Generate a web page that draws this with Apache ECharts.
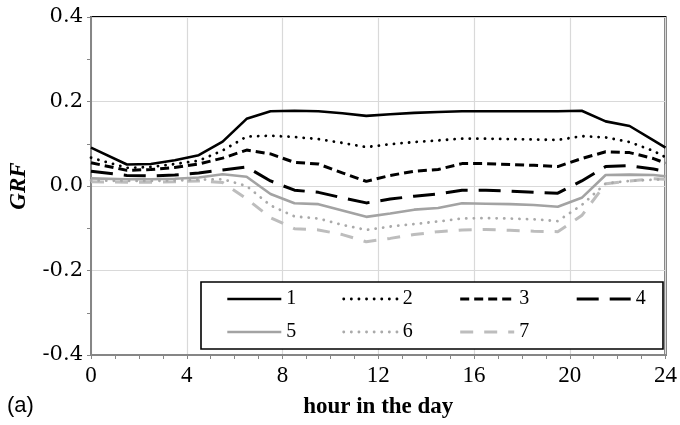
<!DOCTYPE html>
<html>
<head>
<meta charset="utf-8">
<script src="https://cdn.jsdelivr.net/npm/echarts@6/dist/echarts.min.js"></script>
<style>
  html, body { margin: 0; padding: 0; background: #fff; }
  #chart { width: 680px; height: 425px; }
</style>
</head>
<body>
<div id="chart"></div>
<script>
// Hours of the day at which GRF is plotted
const hours = [0, 1.5, 2.5, 3.5, 4.5, 5.5, 6.5, 7.5, 8.5, 9.5, 10.5, 11.5, 12.5,
               13.5, 14.5, 15.5, 16.5, 17.5, 18.5, 19.5, 20.5, 21.5, 22.5, 23.5, 24];

const grf1 = [0.091, 0.051, 0.052, 0.061, 0.073, 0.105, 0.159, 0.177, 0.178, 0.177, 0.172, 0.166, 0.170,
              0.173, 0.175, 0.177, 0.177, 0.177, 0.177, 0.177, 0.178, 0.153, 0.142, 0.108, 0.091];
const grf2 = [0.067, 0.043, 0.045, 0.052, 0.060, 0.084, 0.117, 0.119, 0.116, 0.111, 0.102, 0.092, 0.099,
              0.104, 0.108, 0.112, 0.112, 0.111, 0.110, 0.109, 0.118, 0.115, 0.104, 0.083, 0.068];
const grf3 = [0.055, 0.037, 0.039, 0.044, 0.052, 0.066, 0.085, 0.076, 0.056, 0.052, 0.031, 0.011, 0.025,
              0.035, 0.039, 0.053, 0.053, 0.051, 0.049, 0.046, 0.065, 0.081, 0.079, 0.065, 0.054];
const grf4 = [0.035, 0.025, 0.024, 0.026, 0.031, 0.038, 0.045, 0.012, -0.010, -0.015, -0.028, -0.040, -0.031,
              -0.024, -0.019, -0.010, -0.010, -0.012, -0.015, -0.017, 0.012, 0.046, 0.048, 0.040, 0.035];
const grf5 = [0.018, 0.016, 0.016, 0.017, 0.020, 0.028, 0.022, -0.019, -0.041, -0.043, -0.058, -0.073, -0.065,
              -0.056, -0.052, -0.041, -0.042, -0.043, -0.045, -0.049, -0.028, 0.026, 0.027, 0.026, 0.023];
const grf6 = [0.013, 0.012, 0.012, 0.013, 0.015, 0.016, 0.000, -0.046, -0.072, -0.077, -0.092, -0.104, -0.096,
              -0.090, -0.084, -0.077, -0.076, -0.077, -0.079, -0.083, -0.045, 0.006, 0.012, 0.015, 0.016];
const grf7 = [0.010, 0.009, 0.009, 0.010, 0.012, 0.008, -0.030, -0.075, -0.101, -0.104, -0.115, -0.132, -0.124,
              -0.115, -0.108, -0.104, -0.103, -0.105, -0.107, -0.108, -0.070, 0.005, 0.012, 0.017, 0.016];

const seriesNames = ['1', '2', '3', '4', '5', '6', '7'];
const seriesData = [grf1, grf2, grf3, grf4, grf5, grf6, grf7];

const xTicks = [0, 4, 8, 12, 16, 20, 24];
const yTicks = [-0.4, -0.2, 0.0, 0.2, 0.4];

// Line appearance per series
const styles = [
  { color: '#000000', width: 2.6, type: 'solid', cap: 'butt' },
  { color: '#000000', width: 2.8, type: [0.1, 7.5], cap: 'round' },
  { color: '#000000', width: 3.0, type: [9, 5], cap: 'butt' },
  { color: '#000000', width: 3.0, type: [22, 11], cap: 'butt' },
  { color: '#a3a3a3', width: 2.6, type: 'solid', cap: 'butt' },
  { color: '#aaaaaa', width: 2.8, type: [0.1, 7.5], cap: 'round' },
  { color: '#bdbdbd', width: 3.0, type: [13, 11], cap: 'butt' }
];

const serif = '"Liberation Serif", "Times New Roman", serif';
const wideSerif = '"DejaVu Serif", serif';

const chart = echarts.init(document.getElementById('chart'), null, { renderer: 'canvas' });

const series = seriesNames.map((name, i) => ({
  name: name,
  type: 'line',
  data: hours.map((h, k) => [h, seriesData[i][k]]),
  symbol: 'none',
  smooth: false,
  animation: false,
  z: 10 - i,
  lineStyle: {
    color: styles[i].color,
    width: styles[i].width,
    type: styles[i].type,
    cap: styles[i].cap
  },
  itemStyle: { color: styles[i].color }
}));

const legendCommon = {
  orient: 'horizontal',
  left: 226,
  z: 20,
  padding: 0,
  itemWidth: 54,
  itemHeight: 14,
  itemGap: 46,
  itemStyle: { opacity: 0 },
  lineStyle: { width: 'inherit', type: 'inherit', cap: 'inherit' },
  textStyle: { fontFamily: serif, fontSize: 20, color: '#000' }
};

chart.setOption({
  animation: false,
  backgroundColor: '#ffffff',
  grid: {
    left: 89, right: 10, top: 17, bottom: 70,
    show: true,
    borderColor: '#000000',
    borderWidth: 2,
    backgroundColor: 'transparent'
  },
  xAxis: {
    type: 'value',
    min: xTicks[0],
    max: xTicks[xTicks.length - 1],
    interval: 4,
    name: 'hour in the day',
    nameLocation: 'middle',
    nameGap: 41,
    nameTextStyle: { fontFamily: serif, fontSize: 23, fontWeight: 'bold', color: '#000' },
    axisLine: { show: true, onZero: false, lineStyle: { color: '#868686', width: 2 } },
    axisTick: { show: true, length: 4, lineStyle: { color: '#868686', width: 1 } },
    minorTick: { show: true, splitNumber: 4, length: 4, lineStyle: { color: '#868686', width: 1 } },
    axisLabel: {
      fontFamily: serif, fontSize: 23, color: '#000', margin: 9,
      formatter: v => xTicks.includes(v) ? String(v) : ''
    },
    splitLine: { show: true, lineStyle: { color: '#d9d9d9', width: 1.2 } }
  },
  yAxis: {
    type: 'value',
    min: yTicks[0],
    max: yTicks[yTicks.length - 1],
    interval: 0.2,
    name: 'GRF',
    nameLocation: 'middle',
    nameRotate: 90,
    nameGap: 60,
    nameTextStyle: { fontFamily: serif, fontSize: 23, fontWeight: 'bold', fontStyle: 'italic', color: '#000' },
    axisLine: { show: true, onZero: false, lineStyle: { color: '#868686', width: 2 } },
    axisTick: { show: true, length: 4, lineStyle: { color: '#868686', width: 1 } },
    minorTick: { show: true, splitNumber: 2, length: 4, lineStyle: { color: '#868686', width: 1 } },
    axisLabel: {
      fontFamily: wideSerif, fontSize: 21, color: '#000', margin: 8,
      formatter: v => v.toFixed(1)
    },
    splitLine: { show: true, lineStyle: { color: '#d9d9d9', width: 1.2 } }
  },
  legend: [
    Object.assign({}, legendCommon, { top: 289, data: seriesNames.slice(0, 4) }),
    Object.assign({}, legendCommon, { top: 322, data: seriesNames.slice(4) })
  ],
  graphic: [
    {
      type: 'rect',
      z: 3,
      shape: { x: 201, y: 282, width: 462, height: 67 },
      style: { fill: '#ffffff', stroke: '#000000', lineWidth: 1.6 }
    },
    {
      type: 'text',
      left: 7,
      top: 395,
      style: { text: '(a)', font: '22px "Liberation Sans", Arial, sans-serif', fill: '#000' }
    }
  ],
  series: series
});
</script>
</body>
</html>
